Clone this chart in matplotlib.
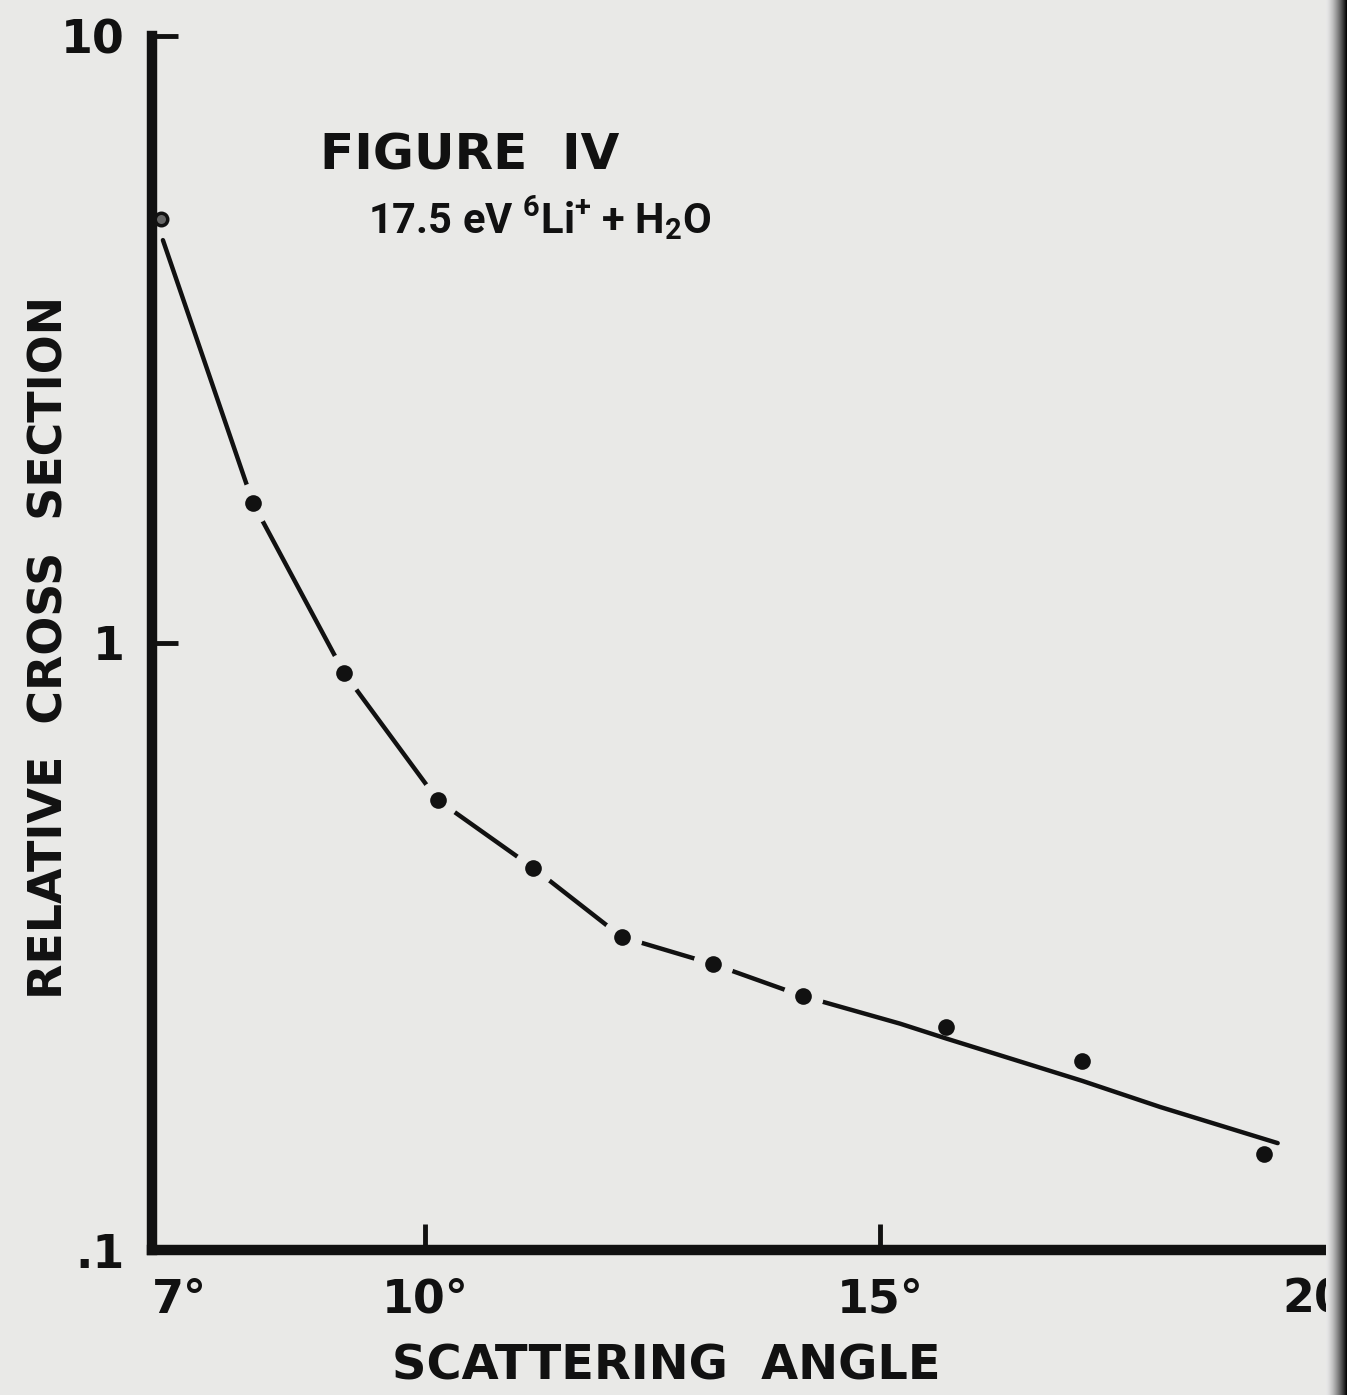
import numpy as np
import matplotlib
matplotlib.use('Agg')
import matplotlib.pyplot as plt
from matplotlib.ticker import NullLocator

# measured points (scattering angle in degrees, relative cross section)
angle = [7.10, 8.11, 9.11, 10.14, 11.19, 12.16, 13.16, 14.15, 15.73, 17.22, 19.22]
cross = [5.00, 1.70, 0.893, 0.551, 0.426, 0.328, 0.296, 0.262, 0.233, 0.205, 0.144]

# hand drawn curve
curve_angle = [7.12, 8.11, 9.11, 10.14, 11.19, 12.16, 13.16, 14.15, 15.22, 15.73, 17.22,
               18.08, 19.37]
curve_cross = [4.61, 1.70, 0.893, 0.551, 0.426, 0.328, 0.296, 0.262, 0.236, 0.223, 0.190,
               0.172, 0.150]

x_ticks = [7, 10, 15, 20]
x_labels = ['7°', '10°', '15°', '']
y_ticks = [0.1, 1, 10]
y_labels = ['.1', '1', '10']

bg = '#e9e9e7'
ink = '#111111'
plt.rcParams['font.family'] = ['DejaVu Sans']
plt.rcParams['mathtext.fontset'] = 'custom'
plt.rcParams['mathtext.rm'] = 'Roboto'
plt.rcParams['mathtext.bf'] = 'Roboto:bold'

W, H = 1347, 1395
fig = plt.figure(figsize=(W / 100, H / 100), dpi=100, facecolor=bg)
ax = fig.add_axes([152 / W, 145 / H, (1335 - 152) / W, (1250 - 36) / H])
ax.set_facecolor(bg)

ax.plot(curve_angle, curve_cross, color=ink, lw=3.2, solid_capstyle='round', zorder=2)
# gaps in the line around the points that sit on it
ax.plot(angle[1:8], cross[1:8], 'o', ms=29, color=bg, mec='none', zorder=3)
ax.plot(angle[1:], cross[1:], 'o', ms=12, color=ink, mec='none', zorder=4)
ax.plot(angle[:1], cross[:1], 'o', ms=9, mfc='#666666', mec=ink, mew=2.5, zorder=4)

ax.set_yscale('log')
ax.set_xlim(7, 20)
ax.set_ylim(0.1, 10)
ax.yaxis.set_minor_locator(NullLocator())
ax.set_xticks(x_ticks)
ax.set_xticklabels(x_labels)
ax.set_yticks(y_ticks)
ax.set_yticklabels(y_labels)

for s in ['top', 'right']:
    ax.spines[s].set_visible(False)
for s in ['left', 'bottom']:
    ax.spines[s].set_linewidth(7.5)
    ax.spines[s].set_color(ink)

ax.tick_params(axis='both', direction='in', length=19, width=3.5, color=ink,
               labelsize=33, labelcolor=ink)
ax.tick_params(axis='y', pad=20)
ax.tick_params(axis='x', pad=20)
ax.xaxis.get_major_ticks()[0].tick1line.set_visible(False)
ax.yaxis.get_major_ticks()[0].tick1line.set_visible(False)
for lab in ax.get_xticklabels() + ax.get_yticklabels():
    lab.set_fontweight('bold')
ax.get_xticklabels()[0].set_ha('left')

# the "20" label runs into the dark edge of the scan
ax.annotate('20', xy=(20, 0.1), xycoords='data', xytext=(8, -20), textcoords='offset points',
            ha='right', va='top', fontsize=33, fontweight='bold', color=ink)

# titles and axis labels
fig.text(320 / W, 1 - 170 / H, 'FIGURE  IV', fontsize=36, fontweight='bold', color=ink,
         ha='left', va='baseline')
fig.text(368 / W, 1 - 234 / H,
         r'17.5 eV $^{\mathbf{6}}$Li$^{\mathbf{+}}$ + H$_{\mathbf{2}}$O',
         fontsize=30, fontweight='bold', family='Roboto', color=ink,
         ha='left', va='baseline')
fig.text(50 / W, 1 - 647 / H, 'RELATIVE  CROSS  SECTION', fontsize=33, fontweight='bold',
         color=ink, rotation=90, ha='center', va='center')
fig.text(666 / W, 1 - 1366 / H, 'SCATTERING  ANGLE', fontsize=34.5, fontweight='bold',
         color=ink, ha='center', va='center')

# dark scanner edge on the right
edge = fig.add_axes([1326 / W, 0, 21 / W, 1], zorder=10)
grad = np.linspace(0, 1, 50)[None, :] ** 1.5
edge.imshow(grad, aspect='auto', cmap='gray_r', extent=[0, 1, 0, 1],
            vmin=-0.1, vmax=1.0)
edge.axis('off')

fig.savefig('out.png', dpi=100, facecolor=bg)
